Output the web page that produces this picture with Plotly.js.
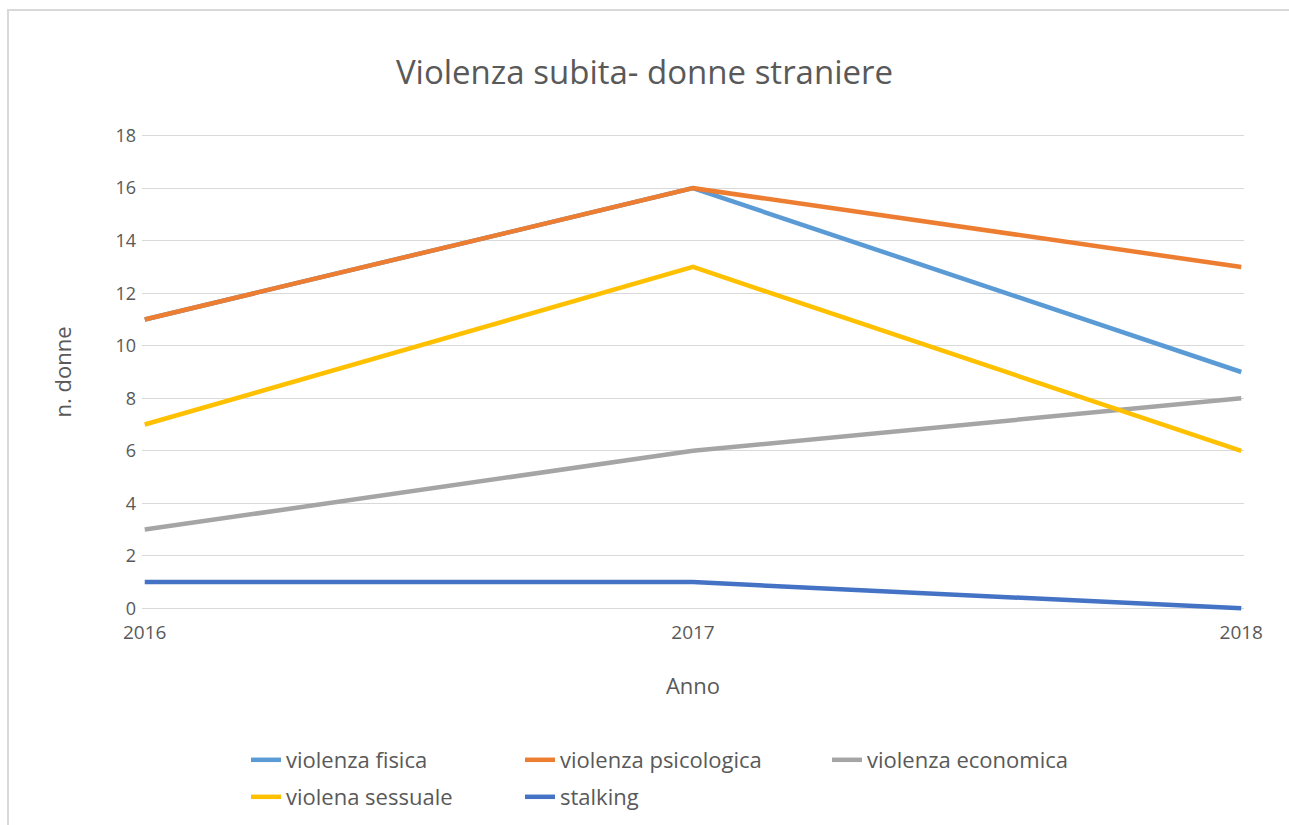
<!DOCTYPE html>
<html>
<head>
<meta charset="utf-8">
<script src="https://cdn.plot.ly/plotly-3.0.1.min.js"></script>
<style>
  html, body { margin: 0; padding: 0; background: #fff; overflow: hidden; }
  #chart { position: absolute; left: 0; top: 0; width: 1289px; height: 825px; }
  #frame { position: absolute; left: 7px; top: 9px; width: 1400px; height: 900px;
           border: 2px solid #d9d9d9; pointer-events: none; }
</style>
</head>
<body>
<div id="chart"></div>
<div id="frame"></div>
<script>
const anni = [2016, 2017, 2018];
const fisica = [11, 16, 9];
const psicologica = [11, 16, 13];
const economica = [3, 6, 8];
const sessuale = [7, 13, 6];
const stalking = [1, 1, 0];

const font = 'Open Sans, sans-serif';
const grigio = '#595959';
const W = 1289, H = 825;

function serie(nome, valori, colore, legenda) {
    return {
        x: anni, y: valori, name: nome, mode: 'lines',
        line: {color: colore, width: 4.5},
        legend: legenda
    };
}

const tracce = [
    serie('violenza fisica', fisica, '#5B9BD5', 'legend'),
    serie('violenza psicologica', psicologica, '#ED7D31', 'legend2'),
    serie('violenza economica', economica, '#A5A5A5', 'legend3'),
    serie('violena sessuale', sessuale, '#FFC000', 'legend4'),
    serie('stalking', stalking, '#4472C4', 'legend5'),
];

// one legend per entry, placed like the original two-row legend
function legenda(px, py) {
    return {
        orientation: 'h',
        xref: 'container', yref: 'container',
        x: px / W, y: 1 - py / H,
        xanchor: 'left', yanchor: 'middle',
        font: {family: font, size: 22, color: grigio},
        bgcolor: 'rgba(0,0,0,0)'
    };
}

const layout = {
    width: W, height: H,
    margin: {l: 142, r: 45, t: 133, b: 214},
    paper_bgcolor: '#fff', plot_bgcolor: '#fff',
    showlegend: true,
    title: {
        text: 'Violenza subita- donne straniere',
        font: {family: font, size: 33, color: grigio},
        x: 0.5, xanchor: 'center', y: 0.912, yanchor: 'middle'
    },
    xaxis: {
        range: [2015.995, 2018.005],
        tickvals: anni, ticktext: anni.map(String),
        showgrid: false, zeroline: false, showline: false,
        ticklabelstandoff: 8,
        tickfont: {family: font, size: 19, color: grigio},
        title: {text: 'Anno', font: {family: font, size: 22, color: grigio}, standoff: 34}
    },
    yaxis: {
        range: [-0.1, 18.1],
        dtick: 2, tick0: 0,
        gridcolor: '#d9d9d9', gridwidth: 1.3,
        zeroline: false, showline: false,
        ticklabelstandoff: 5,
        tickfont: {family: font, size: 18, color: grigio},
        title: {text: 'n. donne', font: {family: font, size: 22, color: grigio}, standoff: 37}
    },
    legend: legenda(246, 760),
    legend2: legenda(520, 760),
    legend3: legenda(827, 760),
    legend4: legenda(246, 797),
    legend5: legenda(520, 797)
};

Plotly.newPlot('chart', tracce, layout, {displayModeBar: false, staticPlot: true});
</script>
</body>
</html>
